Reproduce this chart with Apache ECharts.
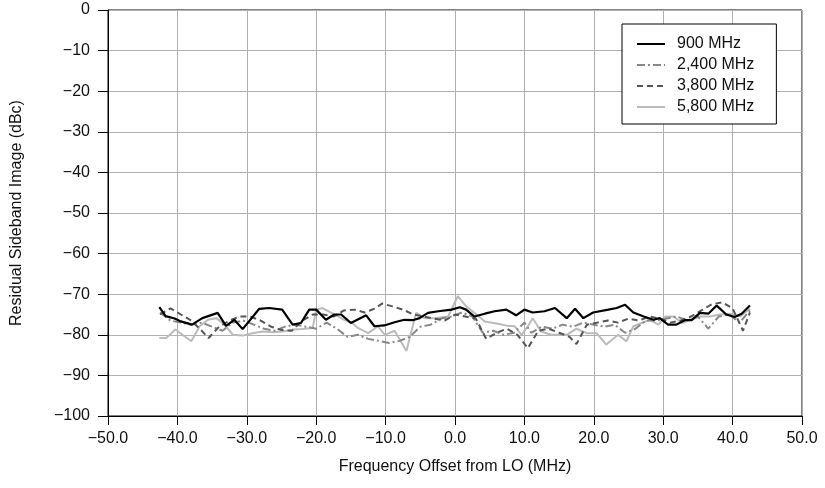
<!DOCTYPE html>
<html><head><meta charset="utf-8">
<script src="https://cdn.jsdelivr.net/npm/echarts@6/dist/echarts.min.js"></script>
<style>html,body{margin:0;padding:0;background:#fff}#c{width:825px;height:488px}</style>
</head><body><div id="c"></div>
<script>
var seriesNames = ['900 MHz', '2,400 MHz', '3,800 MHz', '5,800 MHz'];
var xTicks = [-50, -40, -30, -20, -10, 0, 10, 20, 30, 40, 50];
var yTicks = [0, -10, -20, -30, -40, -50, -60, -70, -80, -90, -100];

var x900 = [-42.6,-41.7,-40.4,-39.5,-37.9,-36.4,-34.2,-33.0,-31.8,-30.6,-28.2,-26.8,-24.9,-23.4,-22.2,-21.0,-20.0,-18.6,-17.4,-16.4,-15.0,-12.8,-11.6,-10.2,-8.7,-7.3,-6.1,-5.1,-3.9,-2.4,-0.5,0.7,1.6,2.8,4.3,5.7,7.4,8.8,10.0,11.2,12.9,14.4,16.1,17.3,18.5,19.9,22.1,23.3,24.5,25.7,27.2,28.6,29.5,30.7,31.9,33.1,34.1,35.3,36.5,37.7,39.1,40.3,41.3,42.5];
var y900 = [-73.2,-75.4,-76.0,-76.7,-77.5,-75.9,-74.6,-77.8,-76.3,-78.6,-73.6,-73.4,-73.8,-77.5,-77.1,-73.8,-73.8,-76.3,-75.0,-75.0,-77.1,-75.2,-77.9,-77.7,-76.9,-76.3,-76.4,-75.9,-74.6,-74.2,-73.8,-73.2,-73.8,-75.5,-74.8,-74.2,-73.8,-75.2,-73.8,-74.5,-74.2,-73.4,-75.9,-73.6,-75.9,-74.5,-73.8,-73.4,-72.6,-74.5,-75.5,-76.3,-75.9,-77.5,-77.5,-76.4,-76.4,-74.6,-74.8,-72.8,-75.0,-75.6,-74.8,-72.8];

var x2400 = [-42.5,-41,-39.5,-38,-36.5,-35,-33.5,-32,-30.5,-29,-27.5,-26,-24.5,-23,-21.5,-20,-18.5,-17,-15.5,-14,-12.5,-11,-9.5,-8,-6.5,-5,-3.5,-2,-0.5,1,2.5,4,5.5,7,8.5,10,11,12.5,14,15.5,17,18.5,20,21.5,23,24.5,26,27.5,29,30.5,32,33.5,35,36.5,38,39.5,41,42.5];
var y2400 = [-74.5,-76.5,-77,-77.5,-77,-78,-79,-77,-76.5,-77.5,-78.5,-79,-78,-77.5,-78,-78.5,-77,-78.5,-80.5,-80,-81,-81.5,-82,-81.5,-80.5,-78,-77.5,-76,-75.5,-74.5,-75.5,-79.5,-79,-80,-79.5,-77,-79.5,-78,-78.5,-77.5,-78,-77,-77.5,-78,-77.5,-79.5,-78.5,-76.5,-76.5,-76,-75.5,-76.5,-75.5,-78.5,-75.5,-75,-77,-74];

var x3800 = [-42.5,-41,-39.5,-38,-36.5,-35.5,-34,-32.5,-31,-29.5,-28,-26.5,-25,-23.5,-22,-20.5,-19,-17.5,-16,-14.5,-13,-11.5,-10.5,-9,-7.5,-6,-4.5,-3,-1.5,0,1.5,3,4.5,6,7.5,9,10.5,12,13.5,15,16.5,17.5,19,20.5,22,23.5,25,26.5,28,29.5,31,32.5,34,35.5,37,38.5,40,41.5,42.5];
var y3800 = [-75,-73.5,-75,-76.5,-79,-80.8,-78,-76.5,-75.5,-75.5,-76.5,-78,-78.8,-79,-76.5,-75,-75,-75.5,-74,-73.8,-74.5,-73.5,-72.3,-73,-73.8,-75,-75.5,-76,-76.5,-75,-75.5,-76,-81,-79.5,-78.5,-80,-83.3,-79,-78.5,-79.5,-80.5,-82.3,-77.5,-77,-76.5,-77,-76,-76.5,-75.5,-76,-77,-76.5,-75.5,-74,-72.5,-72,-73.5,-79,-74.5];

var x5800 = [-42.6,-41.6,-40.3,-38.0,-36.8,-35.6,-34.4,-33.2,-32.0,-30.6,-29.2,-27.7,-26.3,-24.8,-23.4,-22.0,-20.5,-20.0,-19.1,-17.6,-16.2,-14.8,-14.0,-12.5,-11.1,-10.1,-8.7,-7.0,-5.6,-4.4,-2.9,-1.0,0.4,1.6,3.1,4.3,6.2,7.6,8.6,9.6,10.5,11.2,12.4,13.9,16.1,17.5,19.0,20.4,21.8,23.5,24.7,25.7,26.9,28.1,29.3,30.3,31.5,32.7,33.9,35.3,36.7,38.2,39.6,41.1,42.5];
var y5800 = [-80.8,-80.8,-78.7,-81.6,-77.9,-76.3,-75.9,-77.5,-80.0,-80.2,-79.6,-79.2,-79.4,-79.2,-78.7,-78.6,-78.3,-73.8,-73.4,-74.8,-76.1,-77.1,-78.3,-79.6,-77.9,-80.0,-79.0,-84.0,-74.6,-75.9,-75.9,-75.5,-70.5,-73.0,-75.0,-76.7,-77.3,-77.8,-77.9,-80.0,-77.9,-75.9,-79.2,-80.0,-80.0,-78.5,-79.6,-79.6,-82.4,-80.0,-81.6,-77.9,-77.1,-76.3,-77.5,-75.5,-75.5,-77.1,-76.3,-75.5,-75.5,-75.0,-74.8,-75.5,-73.6];

function pairs(xs, ys) { return xs.map(function (x, i) { return [x, ys[i]]; }); }
function minus(s) { return String(s).replace('-', '\u2212'); }

var FONT = 'Liberation Sans, Arial, Helvetica, sans-serif';
var chart = echarts.init(document.getElementById('c'), null, { renderer: 'canvas' });
chart.setOption({
  animation: false,
  backgroundColor: '#fff',
  grid: { left: 108, right: 23, top: 10, bottom: 72, show: true, borderColor: '#000', borderWidth: 1 },
  legend: {
    data: seriesNames,
    orient: 'vertical',
    left: 622, top: 24,
    padding: [12, 22, 9, 14],
    itemWidth: 28, itemHeight: 14, itemGap: 5,
    itemStyle: { opacity: 0 },
    backgroundColor: '#fff', borderColor: '#000', borderWidth: 1,
    textStyle: { fontFamily: FONT, fontSize: 16, color: '#111', padding: [0, 0, 0, 7] }
  },
  xAxis: {
    type: 'value', min: xTicks[0], max: xTicks[xTicks.length - 1], interval: 10,
    name: 'Frequency Offset from LO (MHz)', nameLocation: 'middle', nameGap: 43,
    nameTextStyle: { fontFamily: FONT, fontSize: 16, color: '#111' },
    axisLine: { show: true, onZero: false, lineStyle: { color: '#000', width: 1 } },
    axisTick: { show: true, inside: false, length: 9, lineStyle: { color: '#000' } },
    axisLabel: { fontFamily: FONT, fontSize: 16, color: '#111', margin: 15,
      formatter: function (v) { return minus(v.toFixed(1)); } },
    splitLine: { show: true, lineStyle: { color: '#b0b0b0', width: 1 } }
  },
  yAxis: {
    type: 'value', min: yTicks[yTicks.length - 1], max: yTicks[0], interval: 10,
    name: 'Residual Sideband Image (dBc)', nameLocation: 'middle', nameGap: 83, nameRotate: 90,
    nameTextStyle: { fontFamily: FONT, fontSize: 16, color: '#111' },
    axisLine: { show: true, onZero: false, lineStyle: { color: '#000', width: 1 } },
    axisTick: { show: true, inside: false, length: 10, lineStyle: { color: '#000' } },
    axisLabel: { fontFamily: FONT, fontSize: 16, color: '#111', margin: 18,
      formatter: function (v) { return minus(v); } },
    splitLine: { show: true, lineStyle: { color: '#b0b0b0', width: 1 } }
  },
  series: [
    { name: seriesNames[0], type: 'line', data: pairs(x900, y900), symbol: 'none', z: 5,
      lineStyle: { color: '#000', width: 2.2 }, itemStyle: { color: '#000' } },
    { name: seriesNames[1], type: 'line', data: pairs(x2400, y2400), symbol: 'none', z: 4,
      lineStyle: { color: '#888', width: 2, type: [8, 3, 2, 3] }, itemStyle: { color: '#888' } },
    { name: seriesNames[2], type: 'line', data: pairs(x3800, y3800), symbol: 'none', z: 4,
      lineStyle: { color: '#555', width: 2, type: [6, 4] }, itemStyle: { color: '#555' } },
    { name: seriesNames[3], type: 'line', data: pairs(x5800, y5800), symbol: 'none', z: 3,
      lineStyle: { color: '#bbb', width: 2 }, itemStyle: { color: '#bbb' } }
  ]
});
</script></body></html>
